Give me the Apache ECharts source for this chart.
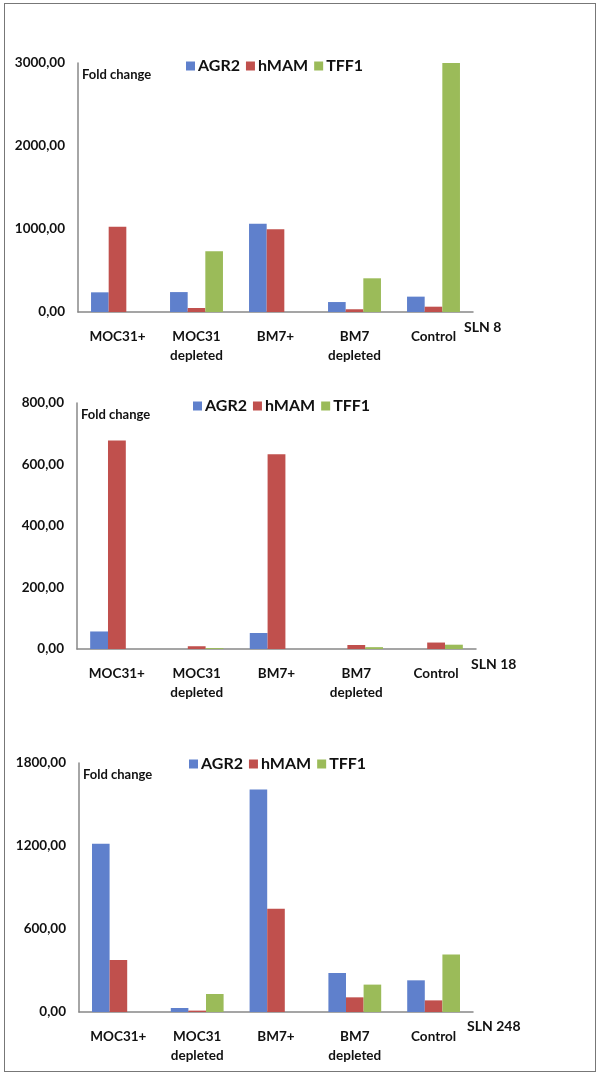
<!DOCTYPE html>
<html>
<head>
<meta charset="utf-8">
<script src="https://cdn.jsdelivr.net/npm/echarts@6/dist/echarts.min.js"></script>
<style>
html,body{margin:0;padding:0;background:#fff;}
#frame{position:absolute;left:4px;top:3px;width:592px;height:1069px;border:1px solid #777;box-sizing:border-box;}
#c{position:absolute;left:0;top:0;width:600px;height:1078px;}
</style>
</head>
<body>
<div id="frame"></div>
<div id="c"></div>
<script>
const categories = ['MOC31+', 'MOC31\ndepleted', 'BM7+', 'BM7\ndepleted', 'Control'];
const seriesNames = ['AGR2', 'hMAM', 'TFF1'];
const colors = ['#5f80cc', '#c0504d', '#9bbb59'];

// SLN 8
const sln8_AGR2 = [237, 240, 1064, 120, 185];
const sln8_hMAM = [1028, 48, 996, 33, 64];
const sln8_TFF1 = [0, 731, 0, 406, 3000];
// SLN 18
const sln18_AGR2 = [57, 0, 52, 0, 0];
const sln18_hMAM = [678, 9, 633, 13, 21];
const sln18_TFF1 = [0, 3, 0, 6, 14];
// SLN 248
const sln248_AGR2 = [1217, 29, 1608, 282, 229];
const sln248_hMAM = [376, 10, 747, 106, 84];
const sln248_TFF1 = [0, 130, 0, 198, 415];

const panelTitles = ['SLN 8', 'SLN 18', 'SLN 248'];
const yMax = [3000, 800, 1800];
const yInterval = [1000, 200, 600];

const panels = [
  [sln8_AGR2, sln8_hMAM, sln8_TFF1],
  [sln18_AGR2, sln18_hMAM, sln18_TFF1],
  [sln248_AGR2, sln248_hMAM, sln248_TFF1]
];

const FONT = 'Lato, "Open Sans", sans-serif';
const grids = [
  {left: 78, width: 395, top: 63, height: 249},
  {left: 77, width: 399, top: 403, height: 246},
  {left: 79, width: 394, top: 763, height: 249}
];
const legendPos = [{left: 181, top: 53}, {left: 188, top: 393}, {left: 184, top: 751}];
const sizeLabelPos = [{left: 459, top: 315}, {left: 466, top: 652}, {left: 462, top: 1014}];

const fmt = v => v.toFixed(2).replace('.', ',');

const option = {
  animation: false,
  backgroundColor: 'transparent',
  grid: grids,
  title: [],
  legend: [],
  xAxis: [],
  yAxis: [],
  series: []
};

panels.forEach((p, i) => {
  option.title.push({
    text: 'Fold change', left: grids[i].left - 1, top: grids[i].top + 0,
    textStyle: {fontFamily: FONT, fontSize: 13, fontWeight: 'bold', color: '#111'}
  });
  option.title.push({
    text: panelTitles[i], left: sizeLabelPos[i].left, top: sizeLabelPos[i].top,
    textStyle: {fontFamily: FONT, fontSize: 14, fontWeight: 'bold', color: '#111'}
  });
  option.legend.push({
    data: seriesNames, left: legendPos[i].left, top: legendPos[i].top,
    itemWidth: 9, itemHeight: 9, itemGap: 6, icon: 'rect',
    textStyle: {fontFamily: FONT, fontSize: 16, fontWeight: 'bold', color: '#111', padding: [0, 0, 0, -2]}
  });
  option.xAxis.push({
    type: 'category', gridIndex: i, data: categories,
    axisLine: {lineStyle: {color: '#888', width: 1.5}},
    axisTick: {show: false},
    axisLabel: {fontFamily: FONT, fontSize: 13.5, fontWeight: 'bold', color: '#111', margin: 15, lineHeight: 19, interval: 0}
  });
  option.yAxis.push({
    type: 'value', gridIndex: i, min: 0, max: yMax[i], interval: yInterval[i],
    axisLine: {show: true, lineStyle: {color: '#888', width: 1.5}},
    axisTick: {show: false},
    splitLine: {show: false},
    axisLabel: {fontFamily: FONT, fontSize: 13.5, fontWeight: 'bold', color: '#111', margin: 13, formatter: fmt}
  });
  p.forEach((d, k) => {
    option.series.push({
      type: 'bar', name: seriesNames[k], xAxisIndex: i, yAxisIndex: i,
      data: d, itemStyle: {color: colors[k]},
      barGap: '0%', barCategoryGap: '33%'
    });
  });
});

const chart = echarts.init(document.getElementById('c'), null, {renderer: 'canvas'});
chart.setOption(option);
</script>
</body>
</html>
